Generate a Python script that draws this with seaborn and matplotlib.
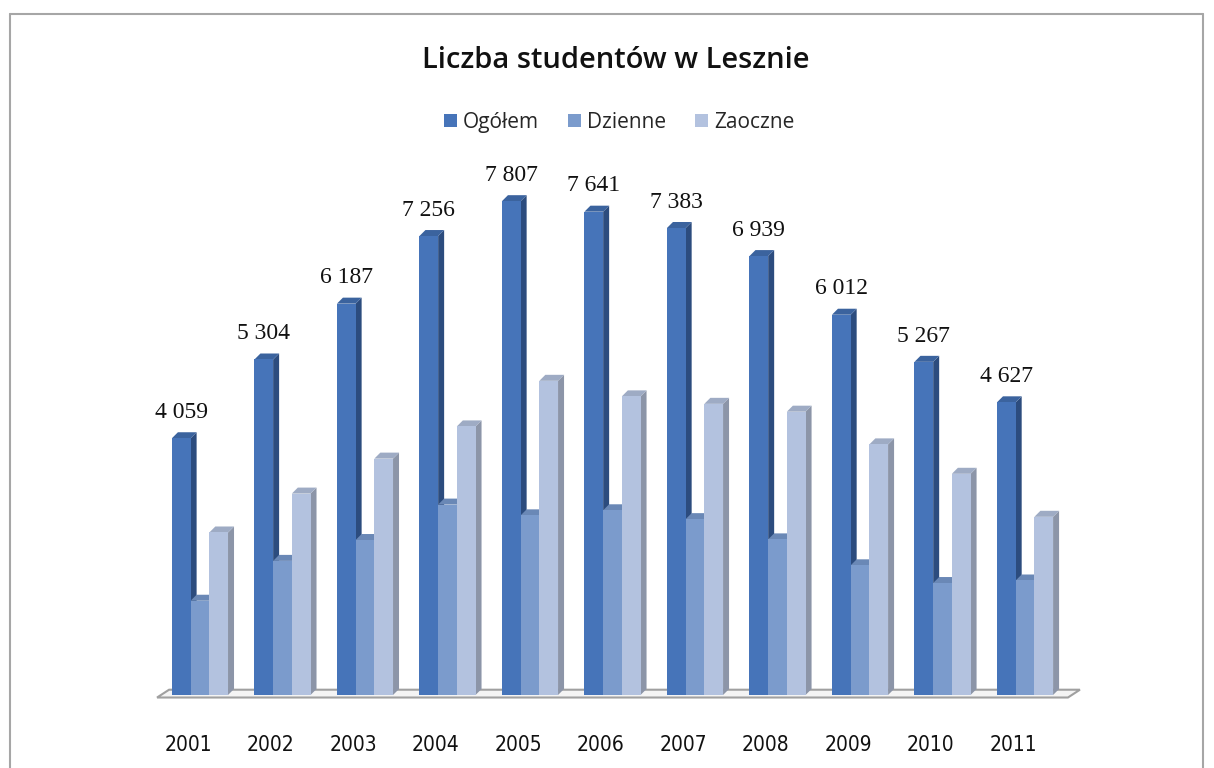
import numpy as np
import pandas as pd
import matplotlib
matplotlib.use("Agg")
from matplotlib import pyplot as plt
from matplotlib.patches import Polygon, Patch
from matplotlib.lines import Line2D
import matplotlib.transforms as mtransforms
import seaborn as sns

years = ["2001", "2002", "2003", "2004", "2005", "2006", "2007", "2008", "2009", "2010", "2011"]
ogolem = [4059, 5304, 6187, 7256, 7807, 7641, 7383, 6939, 6012, 5267, 4627]
dzienne = [1490, 2120, 2450, 3010, 2840, 2920, 2780, 2460, 2050, 1770, 1810]
zaoczne = [2569, 3184, 3737, 4246, 4967, 4721, 4603, 4479, 3962, 3497, 2817]
series = ["Ogółem", "Dzienne", "Zaoczne"]

front = ["#4674b9", "#7b9bcc", "#b3c2df"]
side = ["#2c4c7e", "#56719d", "#8c95a8"]
top = ["#3b639e", "#6a88b6", "#9eabc4"]

df = pd.DataFrame({
    "rok": years * 3,
    "seria": np.repeat(series, len(years)),
    "liczba": ogolem + dzienne + zaoczne,
})

sns.set_style("white")
fig = plt.figure(figsize=(12.14, 7.68), dpi=100)
ax = fig.add_axes([155 / 1214, 0.0786, 915 / 1214, 0.7577])

sns.barplot(data=df, x="rok", y="liczba", hue="seria", hue_order=series,
            palette=front, width=0.68, saturation=1, legend=False, ax=ax,
            linewidth=0, zorder=2)

ax.set_xlim(-0.545, 10.545)
ax.set_ylim(-200, 9000)

# depth of the fake 3D boxes (about 6 px right, 6 px up)
px_x = (10.545 + 0.545) / 915
px_y = 9200 / 581.9
dx, dy = 6 * px_x, 6 * px_y

for i, cont in enumerate(ax.containers):
    for rect in cont:
        x0 = rect.get_x()
        x1 = x0 + rect.get_width()
        h = rect.get_height()
        ax.add_patch(Polygon([(x1, 0), (x1 + dx, dy), (x1 + dx, h + dy), (x1, h)],
                             closed=True, facecolor=side[i], edgecolor="none",
                             zorder=1.5))
        ax.add_patch(Polygon([(x0, h), (x0 + dx, h + dy), (x1 + dx, h + dy), (x1, h)],
                             closed=True, facecolor=top[i], edgecolor="none",
                             zorder=1.5))

# floor
fx0, fx1 = -0.52, 10.52
fy = -40
ax.add_patch(Polygon([(fx0, fy), (fx1, fy), (fx1 + 2 * dx, fy + 1.3 * dy), (fx0 + 2 * dx, fy + 1.3 * dy)],
                     closed=True, facecolor="#f4f4f4", edgecolor="#a0a0a0",
                     linewidth=1.5, zorder=0.5, clip_on=False))

labels = [f"{v:,}".replace(",", " ") for v in ogolem]
ax.bar_label(ax.containers[0], labels=labels, padding=11,
             fontsize=17, family="Liberation Serif", color="#111111")

for s in ax.spines.values():
    s.set_visible(False)
ax.set_yticks([])
ax.set_xlabel("")
ax.set_ylabel("")
ax.tick_params(axis="x", length=0, pad=20, labelsize=15, labelcolor="#111111")
shift = mtransforms.ScaledTranslation(-12 / 100, 0, fig.dpi_scale_trans)
for lab in ax.get_xticklabels():
    lab.set_family("DejaVu Sans")
    lab.set_stretch("condensed")
    lab.set_transform(lab.get_transform() + shift)

fig.text(0.507, 0.921, "Liczba studentów w Lesznie", ha="center", va="center",
         fontsize=21, fontweight="semibold", family="Open Sans", color="#111111")

handles = [Patch(facecolor=c, edgecolor="none") for c in front]
fig.legend(handles, series, loc="center", bbox_to_anchor=(0.51, 0.841), ncol=3,
           frameon=False, handlelength=0.6, handleheight=0.6,
           handletextpad=0.3, columnspacing=1.4, prop={"family": "Open Sans", "size": 15})

# chart area border
for xs, ys in [([0.0082, 0.991], [0.982, 0.982]), ([0.0082, 0.0082], [0.982, 0.0]),
               ([0.991, 0.991], [0.982, 0.0])]:
    fig.add_artist(Line2D(xs, ys, color="#a6a6a6", lw=1.5, transform=fig.transFigure))

fig.savefig("out.png", dpi=100)
